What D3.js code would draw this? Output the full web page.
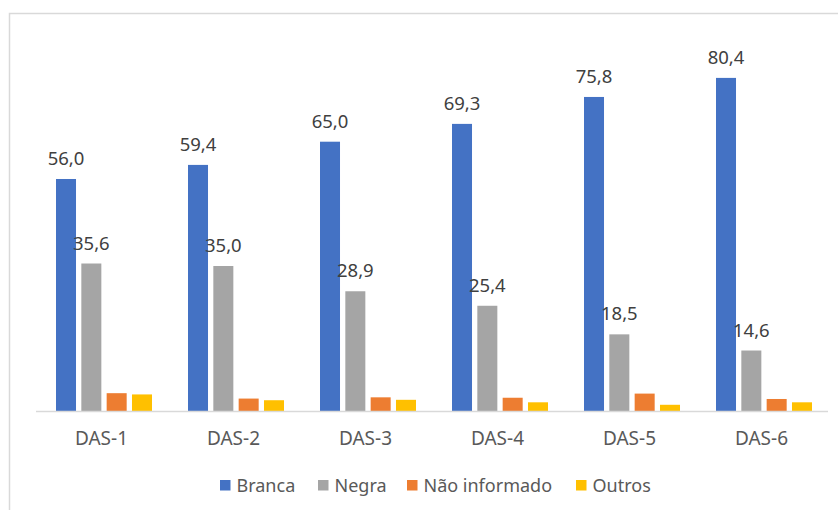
<!DOCTYPE html>
<html><head><meta charset="utf-8">
<script src="https://cdn.jsdelivr.net/npm/d3@7"></script>
<style>body{margin:0;background:#fff}svg{display:block;font-family:"Noto Sans","Open Sans",sans-serif}</style>
</head><body><svg id="c" width="838" height="510"></svg>
<script>
const categories = ["DAS-1","DAS-2","DAS-3","DAS-4","DAS-5","DAS-6"];
const seriesNames = ["Branca","Negra","Não informado","Outros"];
const branca = [56.0,59.4,65.0,69.3,75.8,80.4];
const negra = [35.6,35.0,28.9,25.4,18.5,14.6];
const naoInformado = [4.3,3.0,3.3,3.2,4.2,2.9];
const outros = [4.0,2.6,2.7,2.1,1.5,2.1];
const colors = ["#4472C4","#A5A5A5","#ED7D31","#FFC000"];
const labeled = [true,true,false,false];

const series = [branca,negra,naoInformado,outros];
const svg = d3.select("#c");

// frame
svg.append("path").attr("d","M9.5,510 V13.5 H838").attr("fill","none").attr("stroke","#d9d9d9").attr("stroke-width",1.5);

const x0 = d3.scaleBand().domain(categories).range([35.5,827.5]).paddingInner(0).paddingOuter(0);
const x1 = d3.scaleBand().domain(seriesNames).range([0,96]).paddingInner(0.21);
const y = d3.scaleLinear().domain([0,100]).range([411,411-414.3]);
const groupOffset = (x0.bandwidth()-96)/2 + 2.5;

const g = svg.append("g");
categories.forEach((c,i)=>{
  const gg = g.append("g").attr("transform",`translate(${x0(c)+groupOffset},0)`);
  seriesNames.forEach((s,j)=>{
    const v = series[j][i];
    gg.append("rect").attr("x",x1(s)).attr("y",y(v)).attr("width",x1.bandwidth()).attr("height",y(0)-y(v)).attr("fill",colors[j]);
    if(labeled[j]){
      gg.append("text").attr("x",x1(s)+x1.bandwidth()/2).attr("y",y(v)-14)
        .attr("text-anchor","middle").attr("font-size",18.5).attr("fill","#404040")
        .text(d3.format(".1f")(v).replace(".",","));
    }
  });
});

// x axis
const ax = svg.append("g").attr("transform","translate(0,411)").call(d3.axisBottom(x0).tickSize(0).tickPadding(0));
ax.select(".domain").attr("stroke","#d9d9d9").attr("stroke-width",1.5);
ax.selectAll("text").attr("font-size",19).attr("fill","#595959").attr("dy",0).attr("y",34).attr("font-family","Noto Sans");

// legend
const legX = [220,318,407,576];
const leg = svg.append("g");
seriesNames.forEach((s,j)=>{
  leg.append("rect").attr("x",legX[j]).attr("y",480).attr("width",10.5).attr("height",10.5).attr("fill",colors[j]);
  leg.append("text").attr("x",legX[j]+16.5).attr("y",491.5).attr("font-size",18).attr("fill","#595959").text(s);
});
</script></body></html>
